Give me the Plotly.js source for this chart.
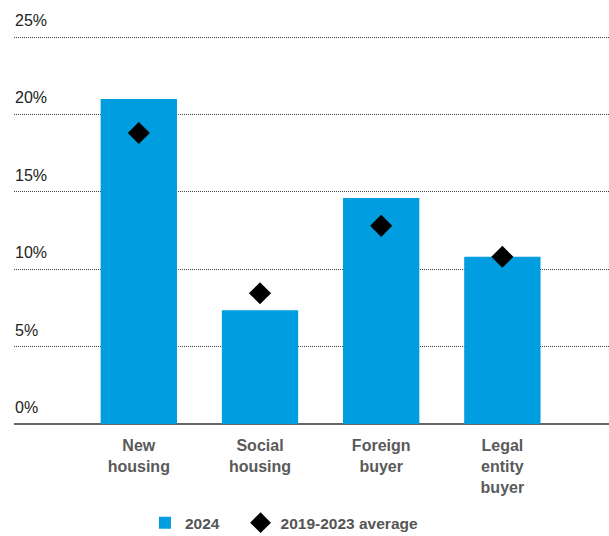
<!DOCTYPE html>
<html>
<head>
<meta charset="utf-8">
<script src="https://cdn.plot.ly/plotly-3.0.1.min.js"></script>
<style>html,body{margin:0;padding:0;background:#fff;}#chart{width:609px;height:536px;}</style>
</head>
<body>
<div id="chart"></div>
<script>
var categories = ["New<br>housing", "Social<br>housing", "Foreign<br>buyer", "Legal<br>entity<br>buyer"];
var values2024 = [21.0, 7.35, 14.6, 10.8];
var valuesAvg = [18.8, 8.45, 12.8, 10.8];
var yTickVals = [0, 5, 10, 15, 20, 25];
var yTickText = ["0%", "5%", "10%", "15%", "20%", "25%"];

var idx = categories.map(function(_, i){ return i; });

var traces = [
  {
    type: 'bar', name: '2024', x: idx, y: values2024, legend: 'legend',
    marker: {color: '#009ee0'}, width: 0.63, hoverinfo: 'skip'
  },
  {
    type: 'scatter', mode: 'markers', name: '2019-2023 average', x: idx, y: valuesAvg,
    legend: 'legend2',
    marker: {symbol: 'diamond', size: 17, color: '#000'}, hoverinfo: 'skip'
  }
];

var yLabels = yTickVals.map(function(v, i){
  return {
    xref: 'paper', yref: 'y', x: 0, y: v, xanchor: 'left', yanchor: 'bottom',
    text: yTickText[i], showarrow: false, yshift: 6, xshift: -1,
    font: {size: 16, color: '#222'}
  };
});

var legendFont = {size: 15.5, color: '#555', weight: 'bold'};

var layout = {
  width: 609, height: 536,
  margin: {l: 14, r: 0, t: 36, b: 112, autoexpand: false},
  paper_bgcolor: '#fff', plot_bgcolor: '#fff',
  font: {family: '"Liberation Sans", Arial, sans-serif', size: 16, color: '#222'},
  showlegend: true,
  legend: {
    orientation: 'h', xref: 'container', yref: 'container',
    x: 0.238, xanchor: 'left', y: 0.024, yanchor: 'middle',
    font: legendFont, itemwidth: 30
  },
  legend2: {
    orientation: 'h', xref: 'container', yref: 'container',
    x: 0.395, xanchor: 'left', y: 0.024, yanchor: 'middle',
    font: legendFont, itemwidth: 30
  },
  xaxis: {
    range: [-1.03, 3.88], tickmode: 'array', tickvals: idx, ticktext: categories,
    tickfont: {size: 16, color: '#5a5a5a', weight: 'bold'},
    ticks: 'outside', ticklen: 7, tickcolor: 'rgba(0,0,0,0)',
    showgrid: false, zeroline: false, showline: false, fixedrange: true
  },
  yaxis: {
    range: [0, 25.065], tickmode: 'array', tickvals: yTickVals,
    showticklabels: false,
    showgrid: true, gridcolor: '#444', griddash: '1px,1px', gridwidth: 1,
    zeroline: true, zerolinecolor: '#666', zerolinewidth: 2,
    showline: false, fixedrange: true
  },
  annotations: yLabels,
  bargap: 0.37
};

Plotly.newPlot('chart', traces, layout, {displayModeBar: false, staticPlot: true});
</script>
</body>
</html>
